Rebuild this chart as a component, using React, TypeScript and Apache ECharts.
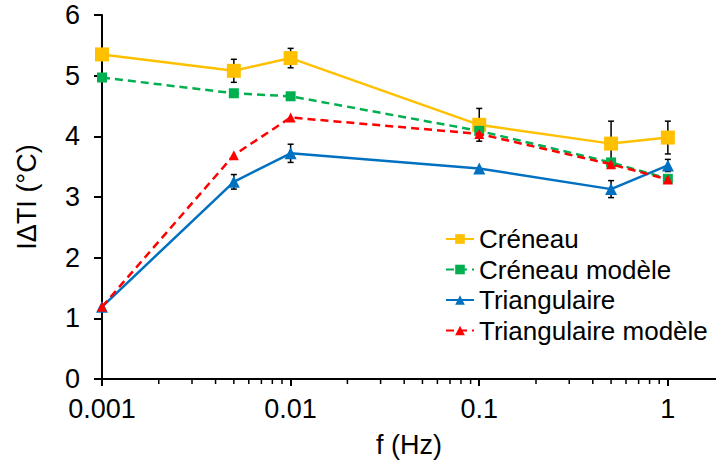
import React, { useEffect, useRef } from "react";
import * as echarts from "echarts";

const freqs = [0.001, 0.005, 0.01, 0.1, 0.5, 1];
const creneau = [5.35, 5.08, 5.29, 4.19, 3.88, 3.98];
const creneauErr = [0, 0.19, 0.16, 0.27, 0.37, 0.27];
const creneauModele = [4.97, 4.71, 4.66, 4.09, 3.57, 3.3];
const triangulaire = [1.19, 3.25, 3.72, 3.47, 3.13, 3.52];
const triangulaireErr = [0, 0.12, 0.15, 0, 0.14, 0.1];
const triangulaireModele = [1.19, 3.69, 4.31, 4.04, 3.54, 3.29];
const minorTicks = [
  0.002, 0.003, 0.004, 0.005, 0.006, 0.007, 0.008, 0.009,
  0.02, 0.03, 0.04, 0.05, 0.06, 0.07, 0.08, 0.09,
  0.2, 0.3, 0.4, 0.5, 0.6, 0.7, 0.8, 0.9,
];
const seriesNames = ["Créneau", "Créneau modèle", "Triangulaire", "Triangulaire modèle"];

const FONT = "'Liberation Sans', Arial, sans-serif";

export default function App() {
  const ref = useRef<HTMLDivElement>(null);
  useEffect(() => {
    if (!ref.current) return;
    const chart = echarts.init(ref.current, null, { renderer: "svg" });
    const pairs = (ys: number[]) => freqs.map((f, i) => [f, ys[i]]);
    const errData = (ys: number[], es: number[]) =>
      freqs.map((f, i) => [f, ys[i], es[i]]).filter((d) => d[2] > 0);
    const errRender = (params: any, api: any) => {
      const x = api.value(0);
      const y = api.value(1);
      const e = api.value(2);
      const top = api.coord([x, y + e]);
      const bot = api.coord([x, y - e]);
      const cw = 3;
      const st = { stroke: "#000", lineWidth: 1.5 };
      return {
        type: "group",
        children: [
          { type: "line", shape: { x1: top[0], y1: top[1], x2: bot[0], y2: bot[1] }, style: st },
          { type: "line", shape: { x1: top[0] - cw, y1: top[1], x2: top[0] + cw, y2: top[1] }, style: st },
          { type: "line", shape: { x1: bot[0] - cw, y1: bot[1], x2: bot[0] + cw, y2: bot[1] }, style: st },
        ],
      };
    };
    chart.setOption({
      animation: false,
      backgroundColor: "#fff",
      textStyle: { fontFamily: FONT },
      grid: { left: 102, right: 0, top: 15, bottom: 91 },
      legend: {
        data: seriesNames,
        orient: "vertical",
        left: 440,
        top: 221,
        itemWidth: 28,
        itemHeight: 12,
        itemGap: 4.5,
        textStyle: { fontSize: 26, lineHeight: 26, color: "#000", fontFamily: FONT },
      },
      xAxis: {
        type: "log",
        logBase: 10,
        min: 0.001,
        max: 1.8,
        name: "f (Hz)",
        nameLocation: "middle",
        nameGap: 52,
        nameTextStyle: { fontSize: 27, color: "#000", fontFamily: FONT },
        axisLine: { lineStyle: { color: "#000", width: 2 } },
        axisTick: { show: true, length: 7, lineStyle: { color: "#000", width: 2 } },
        minorTick: { show: false },
        splitLine: { show: false },
        axisLabel: {
          fontSize: 27,
          color: "#000",
          fontFamily: FONT,
          margin: 16,
          showMaxLabel: false,
          formatter: (v: number) => String(Number(v.toPrecision(3))),
        },
      },
      yAxis: {
        type: "value",
        min: 0,
        max: 6,
        interval: 1,
        name: "IΔTI (°C)",
        nameLocation: "middle",
        nameGap: 62,
        nameTextStyle: { fontSize: 27, color: "#000", fontFamily: FONT },
        axisLine: { show: true, lineStyle: { color: "#000", width: 2 } },
        axisTick: { show: true, length: 8, lineStyle: { color: "#000", width: 2 } },
        splitLine: { show: false },
        axisLabel: { fontSize: 27, color: "#000", fontFamily: FONT, margin: 22 },
      },
      series: [
        {
          type: "custom",
          name: "minorTicks",
          silent: true,
          clip: false,
          data: minorTicks.map((v) => [v, 0]),
          renderItem: (params: any, api: any) => {
            const p = api.coord([api.value(0), 0]);
            return {
              type: "line",
              shape: { x1: p[0], y1: p[1], x2: p[0], y2: p[1] + 5 },
              style: { stroke: "#000", lineWidth: 1.5 },
            };
          },
          z: 1,
        },
        {
          type: "custom",
          name: "errC",
          silent: true,
          clip: false,
          data: errData(creneau, creneauErr),
          renderItem: errRender,
          z: 1,
        },
        {
          type: "custom",
          name: "errT",
          silent: true,
          clip: false,
          data: errData(triangulaire, triangulaireErr),
          renderItem: errRender,
          z: 1,
        },
        {
          type: "line",
          name: seriesNames[0],
          data: pairs(creneau),
          symbol: "rect",
          symbolSize: 14,
          color: "#FFC000",
          lineStyle: { width: 2.5, color: "#FFC000" },
          itemStyle: { color: "#FFC000" },
          z: 2,
        },
        {
          type: "line",
          name: seriesNames[1],
          data: pairs(creneauModele),
          symbol: "rect",
          symbolSize: 10,
          color: "#00B050",
          lineStyle: { width: 2.5, color: "#00B050", type: [8, 5] },
          itemStyle: { color: "#00B050" },
          z: 3,
        },
        {
          type: "line",
          name: seriesNames[2],
          data: pairs(triangulaire),
          symbol: "triangle",
          symbolSize: 12,
          color: "#0070C0",
          lineStyle: { width: 2.5, color: "#0070C0" },
          itemStyle: { color: "#0070C0" },
          z: 4,
        },
        {
          type: "line",
          name: seriesNames[3],
          data: pairs(triangulaireModele),
          symbol: "triangle",
          symbolSize: 10,
          color: "#FF0000",
          lineStyle: { width: 2.5, color: "#FF0000", type: [8, 5] },
          itemStyle: { color: "#FF0000" },
          z: 5,
        },
      ],
    });
    return () => chart.dispose();
  }, []);
  return (
    <div
      ref={ref}
      style={{ position: "fixed", left: 0, top: 0, width: 716, height: 470, background: "#fff" }}
    />
  );
}
